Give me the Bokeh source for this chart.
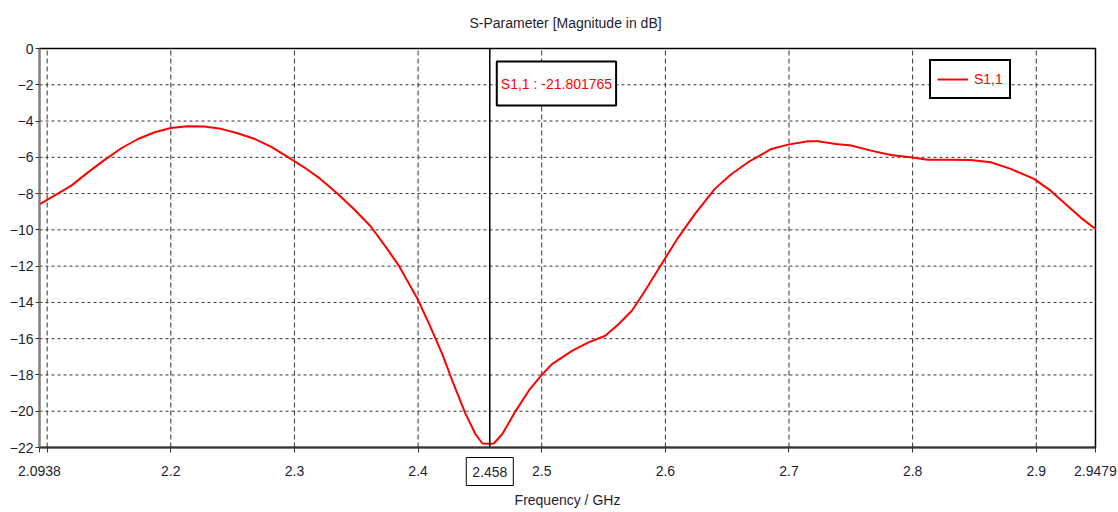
from bokeh.plotting import figure
from bokeh.models import Range1d, FixedTicker, CustomJSTickFormatter, Label
from bokeh.embed import file_html
from bokeh.resources import INLINE

# ---- data ----
freq = [2.0938, 2.1196, 2.1330, 2.1465, 2.1600, 2.1734, 2.1870, 2.2000, 2.2137,
        2.2270, 2.2406, 2.2540, 2.2675, 2.2810, 2.2970, 2.3078, 2.3210, 2.3347,
        2.3480, 2.3616, 2.3740, 2.3847, 2.3995, 2.4090, 2.4196, 2.4277, 2.4385,
        2.4465, 2.4520, 2.4580, 2.4613, 2.4680, 2.4790, 2.4895, 2.5000, 2.5083,
        2.5245, 2.5379, 2.5514, 2.5621, 2.5729, 2.5836, 2.5970, 2.6105, 2.6240,
        2.6400, 2.6535, 2.6670, 2.6858, 2.6992, 2.7154, 2.7233, 2.7288, 2.7380,
        2.7502, 2.7664, 2.7825, 2.7982, 2.8121, 2.8309, 2.8470, 2.8631, 2.8793,
        2.8981, 2.9116, 2.9250, 2.9357, 2.9479]
s11_db = [-8.60, -7.56, -6.83, -6.14, -5.50, -4.99, -4.62, -4.38, -4.29,
          -4.30, -4.43, -4.67, -4.98, -5.41, -6.09, -6.55, -7.19, -8.00,
          -8.85, -9.80, -10.95, -12.00, -13.80, -15.20, -16.85, -18.32, -20.16,
          -21.27, -21.78, -21.80, -21.78, -21.27, -19.98, -18.87, -18.00, -17.40,
          -16.67, -16.20, -15.84, -15.20, -14.46, -13.36, -11.88, -10.41, -9.12,
          -7.74, -6.92, -6.27, -5.54, -5.30, -5.11, -5.11, -5.17, -5.26,
          -5.35, -5.63, -5.87, -6.00, -6.13, -6.13, -6.15, -6.27, -6.64,
          -7.19, -7.84, -8.66, -9.31, -9.95]

x_ticks = [2.0938, 2.1, 2.2, 2.3, 2.4, 2.5, 2.6, 2.7, 2.8, 2.9, 2.9479]
x_tick_labels = ["2.0938", "", "2.2", "2.3", "2.4", "2.5", "2.6", "2.7", "2.8", "2.9", "2.9479"]
x_grid = [2.1, 2.2, 2.3, 2.4, 2.5, 2.6, 2.7, 2.8, 2.9]
y_ticks = [-22, -20, -18, -16, -14, -12, -10, -8, -6, -4, -2, 0]

marker_freq = 2.458
marker_value = -21.801765
series_name = "S1,1"
chart_title = "S-Parameter [Magnitude in dB]"
x_title = "Frequency / GHz"

FONT = "Liberation Sans"
TXT = "#1e1e30"
RED = "#ff0000"
GRID = "#333333"

# ---- layout: the plot box sits at 39..1095 x 48..447 px; the frame covers the whole
#      canvas so that title, tick labels and the boxed marker value are not clipped
W, H = 1118, 512
BL, BR, BT, BB = 39, 23, 48, 65
x_lo, x_hi = x_ticks[0], x_ticks[-1]
y_lo, y_hi = y_ticks[0], y_ticks[-1]
ppx = (W - BL - BR) / (x_hi - x_lo)      # px per GHz
ppy = (H - BT - BB) / (y_hi - y_lo)      # px per dB

p = figure(width=W, height=H, output_backend="svg", toolbar_location=None,
           x_range=Range1d(x_lo - BL / ppx, x_hi + BR / ppx),
           y_range=Range1d(y_lo - BB / ppy, y_hi + BT / ppy),
           min_border=0)
p.title.visible = False
p.background_fill_color = "white"
p.border_fill_color = "white"
p.outline_line_color = None
p.xgrid.visible = False
p.ygrid.visible = False

# grid (dashed verticals, dotted horizontals) inside the plot box
p.segment(x0=x_grid, y0=[y_lo] * len(x_grid), x1=x_grid, y1=[y_hi] * len(x_grid),
          line_color=GRID, line_width=1, line_dash="5 3")
p.segment(x0=[x_lo] * len(y_ticks), y0=y_ticks, x1=[x_hi] * len(y_ticks), y1=y_ticks,
          line_color=GRID, line_width=1, line_dash="3 3")
# plot box border
p.quad(left=[x_lo], right=[x_hi], bottom=[y_lo], top=[y_hi],
       fill_color=None, line_color="black", line_width=1.5)

xa = p.xaxis[0]
xa.fixed_location = y_lo
xa.bounds = (x_lo, x_hi)
xa.ticker = FixedTicker(ticks=x_ticks)
xa.formatter = CustomJSTickFormatter(args=dict(labels=x_tick_labels), code="return labels[index];")
xa.axis_label = x_title
xa.axis_label_text_font = FONT
xa.axis_label_text_font_size = "14px"
xa.axis_label_text_font_style = "normal"
xa.axis_label_text_color = TXT
xa.axis_label_standoff = 13
xa.major_label_text_font = FONT
xa.major_label_text_font_size = "14px"
xa.major_label_text_color = TXT
xa.major_label_standoff = 13
xa.axis_line_color = "#333333"
xa.axis_line_width = 2
xa.major_tick_out = 5
xa.major_tick_in = 0
xa.major_tick_line_color = "#333333"
xa.minor_tick_out = 0
xa.minor_tick_in = 0

ya = p.yaxis[0]
ya.fixed_location = x_lo
ya.bounds = (y_lo, y_hi)
ya.ticker = FixedTicker(ticks=y_ticks)
ya.major_label_text_font = FONT
ya.major_label_text_font_size = "14px"
ya.major_label_text_color = TXT
ya.major_label_standoff = 2
ya.axis_line_color = "#808080"
ya.axis_line_width = 2
ya.major_tick_out = 4
ya.major_tick_in = 0
ya.major_tick_line_color = "#333333"
ya.minor_tick_out = 0
ya.minor_tick_in = 0

p.line(freq, s11_db, line_color=RED, line_width=2, legend_label=series_name)

# marker line
p.segment(x0=[marker_freq], y0=[y_lo], x1=[marker_freq], y1=[y_hi], line_color="black", line_width=1.5)

# chart title above the plot box
p.add_layout(Label(x=(x_lo + x_hi) / 2, y=y_hi, x_offset=-2, y_offset=26,
                   text=chart_title, text_align="center", text_baseline="middle",
                   text_font=FONT, text_font_size="14px", text_color=TXT))

p.add_layout(Label(x=marker_freq, y=y_hi, x_offset=7, y_offset=-13, anchor="top_left",
                   text=f"{series_name} : {marker_value}", text_font=FONT, text_font_size="14px",
                   text_color=RED, border_line_color="black", border_line_width=2,
                   background_fill_color="white", padding=(4, 14)))

p.add_layout(Label(x=marker_freq, y=y_lo, y_offset=-10, anchor="top_center",
                   text=f"{marker_freq}", text_font=FONT, text_font_size="14px",
                   text_color=TXT, border_line_color="black", border_line_width=1,
                   background_fill_color="white", padding=(6, 9)))

lg = p.legend[0]
lg.location = (929, 413)
lg.border_line_color = "black"
lg.border_line_width = 2
lg.border_line_alpha = 1
lg.background_fill_color = "white"
lg.background_fill_alpha = 1
lg.padding = 6
lg.margin = 0
lg.glyph_width = 31
lg.glyph_height = 24
lg.label_standoff = 6
lg.label_text_font = FONT
lg.label_text_font_size = "14px"
lg.label_text_color = RED

open("out.html", "w").write(file_html(p, INLINE))
